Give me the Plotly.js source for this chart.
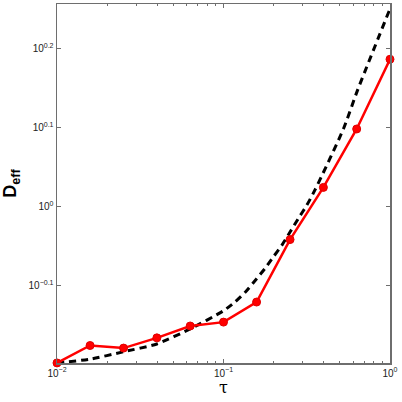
<!DOCTYPE html>
<html><head><meta charset="utf-8">
<script src="https://cdn.plot.ly/plotly-3.0.1.min.js"></script>
<style>html,body{margin:0;padding:0;background:#fff}#chart{width:402px;height:402px}</style>
</head><body><div id="chart"></div>
<script>
// simulated points (red)
const tauSim = [0.01, 0.0158, 0.0251, 0.0398, 0.0631, 0.1, 0.158, 0.251, 0.398, 0.631, 1.0];
const deffSim = [0.634, 0.667, 0.662, 0.682, 0.706, 0.714, 0.757, 0.908, 1.057, 1.253, 1.535];
// theory curve (dashed)
const tauTheory = [0.01, 0.0158, 0.0251, 0.0398, 0.0631, 0.1, 0.117, 0.135, 0.155, 0.177, 0.199, 0.224, 0.251, 0.281, 0.316, 0.355, 0.525, 0.637, 1.0];
const deffTheory = [0.634, 0.641, 0.655, 0.670, 0.700, 0.738, 0.757, 0.779, 0.806, 0.834, 0.863, 0.893, 0.928, 0.965, 1.003, 1.050, 1.253, 1.401, 1.778];

const xTickVals = [0.01, 0.1, 1];
const xTickText = ['10<sup>−2</sup>', '10<sup>−1</sup>', '10<sup>0</sup>'];
const yTickVals = [Math.pow(10,-0.1), 1, Math.pow(10,0.1), Math.pow(10,0.2)];
const yTickText = ['10<sup>−0.1</sup>', '10<sup>0</sup>', '10<sup>0.1</sup>', '10<sup>0.2</sup>'];
const xMinor = [];
[0.01, 0.1].forEach(d => { for (let k = 2; k <= 9; k++) xMinor.push(d * k); });

const axisColor = '#6e6e6e';
const data = [
  {x: tauTheory, y: deffTheory, type: 'scatter', mode: 'lines',
   line: {color: '#000', width: 3, dash: '7px,5px', shape: 'spline', smoothing: 0.6}, hoverinfo: 'none', cliponaxis: false},
  {x: tauSim, y: deffSim, type: 'scatter', mode: 'lines+markers',
   line: {color: '#ff0000', width: 2.5},
   marker: {color: '#ff0000', size: 8, line: {color: '#e00000', width: 1}},
   cliponaxis: false, hoverinfo: 'none'}
];
const layout = {
  width: 402, height: 402,
  margin: {l: 57, r: 12, t: 4, b: 39},
  paper_bgcolor: '#fff', plot_bgcolor: '#fff',
  showlegend: false,
  font: {family: 'Liberation Sans, Arial, sans-serif', size: 10, color: '#000'},
  xaxis: {
    type: 'log', range: [-2, 0],
    tickmode: 'array', tickvals: xTickVals, ticktext: xTickText,
    ticks: 'inside', ticklen: 4, tickcolor: axisColor, tickwidth: 1,
    minor: {tickmode: 'array', tickvals: xMinor, ticks: 'inside', ticklen: 2, tickcolor: axisColor},
    showline: true, linecolor: axisColor, linewidth: 1.5, mirror: 'ticks',
    showgrid: false, zeroline: false,
    tickfont: {size: 10, color: '#222'},
    title: {text: 'τ', font: {family: 'DejaVu Serif, serif', size: 16, color: '#000'}, standoff: 4}
  },
  yaxis: {
    type: 'log', range: [-0.198, 0.256],
    tickmode: 'array', tickvals: yTickVals, ticktext: yTickText,
    ticks: 'inside', ticklen: 4, tickcolor: axisColor, tickwidth: 1,
    showline: true, linecolor: axisColor, linewidth: 1.5, mirror: 'ticks',
    showgrid: false, zeroline: false,
    tickfont: {size: 10, color: '#222'},
    title: {text: '<b>D<sub>eff</sub></b>', font: {family: 'Liberation Sans, Arial, sans-serif', size: 18, color: '#000'}, standoff: 8}
  }
};
Plotly.newPlot('chart', data, layout, {staticPlot: true, displayModeBar: false});
</script></body></html>
